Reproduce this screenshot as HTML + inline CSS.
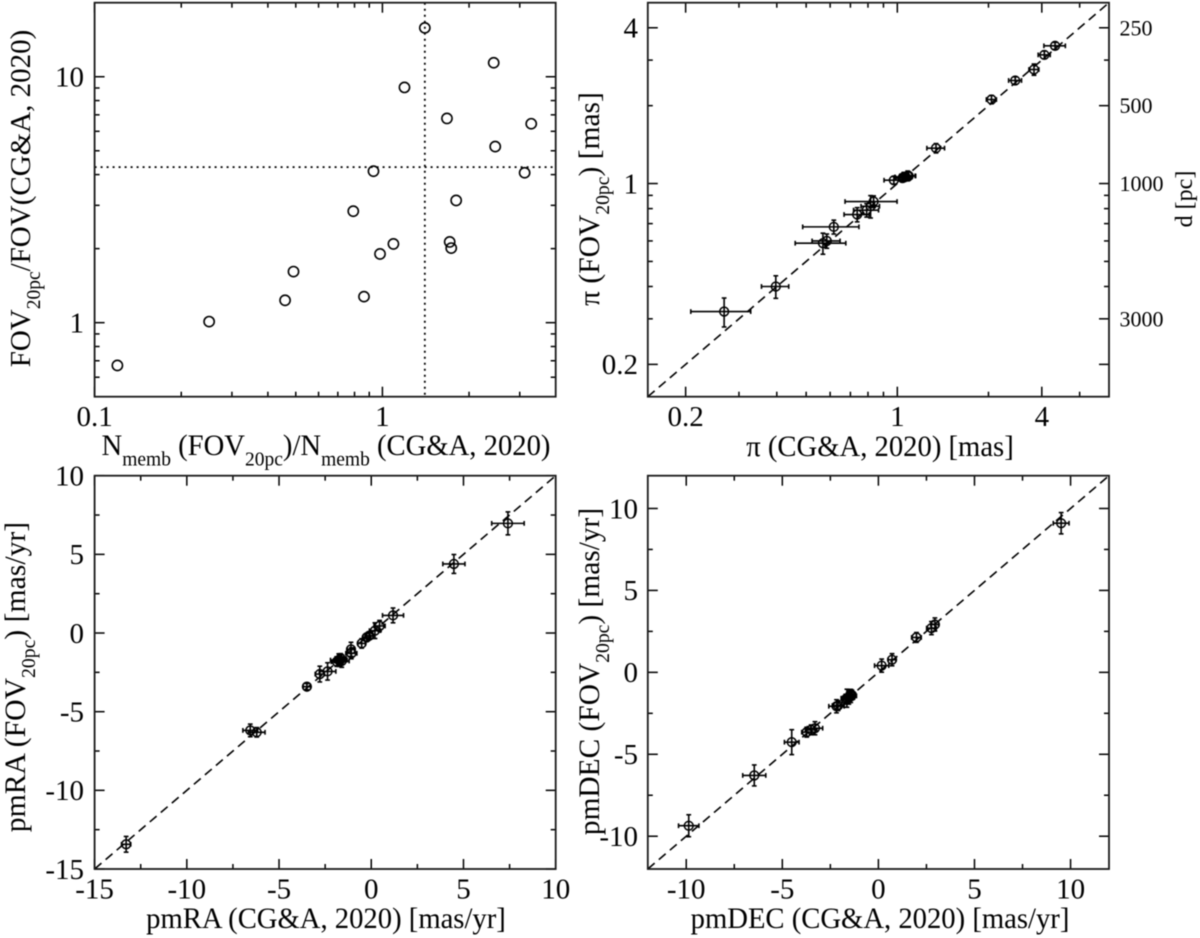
<!DOCTYPE html>
<html lang="en">
<head>
<meta charset="utf-8">
<title>Cluster parameter comparison</title>
<style>
html,body{margin:0;padding:0;background:#fff;}
svg{display:block;filter:blur(0.4px);}
text{font-family:"Liberation Serif",serif;fill:#000;}
</style>
</head>
<body>
<svg id="figure" xmlns="http://www.w3.org/2000/svg" width="1200" height="938" viewBox="0 0 1200 938">
  <g id="panel-a"></g>
  <g id="panel-b"></g>
  <g id="panel-c"></g>
  <g id="panel-d"></g>

  <text transform="translate(326 455) scale(.975 1)" text-anchor="middle" font-size="29.4">N<tspan dy="10.5" font-size="20">memb</tspan><tspan dy="-10.5"> (FOV</tspan><tspan dy="10.5" font-size="20">20pc</tspan><tspan dy="-10.5">)/N</tspan><tspan dy="10.5" font-size="20">memb</tspan><tspan dy="-10.5"> (CG&amp;A, 2020)</tspan></text>
  <text transform="translate(30 198.5) rotate(-90)" text-anchor="middle" font-size="29">FOV<tspan dy="10" font-size="19.5">20pc</tspan><tspan dy="-10">/FOV(CG&amp;A, 2020)</tspan></text>

  <text transform="translate(880 456) scale(.975 1)" text-anchor="middle" font-size="29.4">π (CG&amp;A, 2020) [mas]</text>
  <text transform="translate(599 199) rotate(-90)" text-anchor="middle" font-size="29.5">π (FOV<tspan dy="10" font-size="19.7">20pc</tspan><tspan dy="-10">) [mas]</tspan></text>
  <text transform="translate(1192 199) rotate(-90)" text-anchor="middle" font-size="24">d [pc]</text>

  <text transform="translate(326 928) scale(.975 1)" text-anchor="middle" font-size="29.4">pmRA (CG&amp;A, 2020) [mas/yr]</text>
  <text transform="translate(25 677) rotate(-90)" text-anchor="middle" font-size="29.7">pmRA (FOV<tspan dy="10" font-size="19.7">20pc</tspan><tspan dy="-10">) [mas/yr]</tspan></text>

  <text transform="translate(880 928) scale(.975 1)" text-anchor="middle" font-size="29.4">pmDEC (CG&amp;A, 2020) [mas/yr]</text>
  <text transform="translate(599 671.5) rotate(-90)" text-anchor="middle" font-size="29.4">pmDEC (FOV<tspan dy="10" font-size="19.7">20pc</tspan><tspan dy="-10">) [mas/yr]</tspan></text>
</svg>

<script>
// ---------- Panel A data: member-count ratio vs field-of-view ratio ----------
const ratioNmemb = [0.120,0.250,0.459,0.491,0.863,0.792,0.981,1.092,0.931,1.193,1.404,1.676,1.713,1.734,1.804,2.436,2.466,3.12,3.289];
const ratioFov = [0.670,1.01,1.233,1.613,1.276,2.84,1.903,2.09,4.13,9.05,15.8,6.77,2.13,2.01,3.14,11.4,5.2,4.07,6.44];
const ratioMedianX = [1.404];
const ratioMedianY = [4.29];
const ratioXDomain = [0.1,4];
const ratioYDomain = [0.5,20];
const ratioXMajor = [0.1,1];
const ratioXMinor = [0.2,0.3,0.4,0.5,0.6,0.7,0.8,0.9,2,3];
const ratioXLabels = ["0.1","1"];
const ratioYMajor = [1,10];
const ratioYMinor = [0.6,0.7,0.8,0.9,2,3,4,5,6,7,8,9];
const ratioYLabels = ["1","10"];

// ---------- Panel B data: parallax ----------
const plxX = [0.268,0.397,0.568,0.585,0.617,0.737,0.792,0.816,0.835,0.974,1.04,1.051,1.082,1.066,1.09,1.342,2.046,2.451,2.827,3.058,3.318];
const plxY = [0.320,0.400,0.588,0.600,0.680,0.759,0.789,0.817,0.852,1.030,1.05,1.061,1.071,1.061,1.07,1.370,2.112,2.502,2.759,3.143,3.406];
const plxXErr = [0.06,0.041,0.108,0.062,0.13,0.07,0.075,0.057,0.163,0.07,0.05,0.068,0.063,0.05,0.06,0.09,0.078,0.12,0.107,0.14,0.27];
const plxYErr = [0.041,0.04,0.055,0.038,0.042,0.048,0.047,0.081,0.044,0.035,0.035,0.043,0.047,0.035,0.04,0.057,0.078,0.082,0.138,0.108,0.107];
const plxDomain = [0.15,5];
const plxXMajor = [0.2,1,3];
const plxXMinor = [0.3,0.4,0.5,0.6,0.7,0.8,0.9,2,4];
const plxXLabels = ["0.2","1","4"];
const plxYMajor = [0.2,1,4];
const plxYMinor = [0.3,0.4,0.5,0.6,0.7,0.8,0.9,2,3];
const plxYLabels = ["0.2","1","4"];
const plxRightMajor = [0.2,0.3,1,2,4];
const plxRightMinor = [0.4,0.5,0.6,0.7,0.8,0.9,3];
const distTickParallax = [4,2,1,0.3];
const distLabels = ["250","500","1000","3000"];

// ---------- Panel C data: proper motion in RA ----------
const pmraX = [-13.29,-6.56,-6.21,-3.49,-2.79,-2.37,-1.87,-1.76,-1.7,-1.66,-1.60,-1.10,-1.08,-0.52,-0.25,-0.11,0.2,0.45,1.18,4.48,7.41];
const pmraY = [-13.43,-6.19,-6.31,-3.41,-2.61,-2.44,-1.82,-1.72,-1.75,-1.61,-1.78,-1.04,-1.29,-0.66,-0.28,-0.17,0.15,0.45,1.12,4.39,6.97];
const pmraXErr = [0.25,0.4,0.45,0.2,0.25,0.45,0.3,0.45,0.3,0.3,0.4,0.2,0.3,0.2,0.2,0.2,0.3,0.3,0.57,0.6,0.88];
const pmraYErr = [0.5,0.4,0.3,0.2,0.5,0.55,0.3,0.4,0.35,0.3,0.4,0.45,0.35,0.3,0.25,0.2,0.5,0.35,0.47,0.6,0.73];
const pmraDomain = [-15,10];
const pmraMajor = [-15,-10,-5,0,5,10];
const pmraMinor = [-12.5,-7.5,-2.5,2.5,7.5];
const pmraLabels = ["-15","-10","-5","0","5","10"];

// ---------- Panel D data: proper motion in DEC ----------
const pmdecX = [-9.87,-6.46,-4.51,-3.73,-3.5,-3.3,-2.18,-2.1,-1.7,-1.64,-1.6,-1.54,-1.5,-1.44,-1.45,-1.38,0.17,0.71,1.98,2.76,2.94,9.51];
const pmdecY = [-9.36,-6.29,-4.26,-3.65,-3.51,-3.41,-2.07,-2.03,-1.64,-1.58,-1.6,-1.54,-1.5,-1.44,-1.35,-1.38,0.41,0.77,2.13,2.7,2.92,9.1];
const pmdecXErr = [0.53,0.6,0.38,0.26,0.3,0.4,0.4,0.3,0.2,0.3,0.25,0.3,0.25,0.3,0.2,0.2,0.37,0.2,0.25,0.25,0.2,0.41];
const pmdecYErr = [0.67,0.64,0.76,0.3,0.3,0.4,0.4,0.3,0.3,0.55,0.3,0.4,0.3,0.4,0.3,0.3,0.4,0.37,0.3,0.4,0.4,0.65];
const pmdecDomain = [-12,12];
const pmdecMajor = [-10,-5,0,5,10];
const pmdecMinor = [-7.5,-2.5,2.5,7.5];
const pmdecLabels = ["-10","-5","0","5","10"];

// ---------- Layout ----------
const INK = "#000";
const LEFT_COL = {x0:94.6, x1:555.7};
const RIGHT_COL = {x0:647.8, x1:1109};
const TOP_ROW = {y0:396.7, y1:2.7};
const BOTTOM_ROW = {y0:869, y1:475.7};
const MAJOR_LEN = 10;
const MINOR_LEN = 5;
const TICK_FONT = 29;

function linearScale(domain, a, b){
  return function(v){ return a + (v - domain[0]) / (domain[1] - domain[0]) * (b - a); };
}
function logScale(domain, a, b){
  const l0 = Math.log10(domain[0]);
  const l1 = Math.log10(domain[1]);
  return function(v){ return a + (Math.log10(v) - l0) / (l1 - l0) * (b - a); };
}
function svgEl(tag, geom, parent){
  const el = document.createElementNS("http://www.w3.org/2000/svg", tag);
  for(const k in geom){ el.setAttribute(k, geom[k]); }
  parent.appendChild(el);
  return el;
}
function line(parent, x1, y1, x2, y2, width, extra){
  const g = {x1:x1, y1:y1, x2:x2, y2:y2, stroke:INK, "stroke-width":width};
  if(extra){ for(const k in extra){ g[k] = extra[k]; } }
  return svgEl("line", g, parent);
}

function drawFrame(parent, col, row){
  const frame = svgEl("rect", {x:col.x0, y:row.y1, width:col.x1-col.x0, height:row.y0-row.y1, fill:"none", stroke:"#1a1a1a", "stroke-width":1.8}, parent);
  
  
}
function drawXTicks(parent, sx, row, values, len){
  values.forEach(function(v){
    const x = sx(v);
    const bottom = line(parent, x, row.y0, x, row.y0 - len, 1.5);
    
    
    const top = line(parent, x, row.y1, x, row.y1 + len, 1.5);
    
    
  });
}
function drawYTicks(parent, sy, col, values, len, side){
  values.forEach(function(v){
    const y = sy(v);
    const x = side === "left" ? col.x0 : col.x1;
    const dir = side === "left" ? 1 : -1;
    const tick = line(parent, x, y, x + dir * len, y, 1.5);
    
    
  });
}
function drawXLabels(parent, sx, values, labels, baseline){
  values.forEach(function(v, i){
    const t = svgEl("text", {x:sx(v), y:baseline, "text-anchor":"middle", "font-size":TICK_FONT}, parent);
    t.textContent = labels[i];
    
    
  });
}
function drawYLabels(parent, sy, values, labels, right){
  values.forEach(function(v, i){
    const t = svgEl("text", {x:right, y:sy(v) + 9.8, "text-anchor":"end", "font-size":TICK_FONT}, parent);
    t.textContent = labels[i];
    
    
  });
}
function drawIdentity(parent, sx, sy, domain){
  const l = line(parent, sx(domain[0]), sy(domain[0]), sx(domain[1]), sy(domain[1]), 1.6, {"stroke-dasharray":"9 5.5"});
  
  
}
function drawErrorPoints(parent, sx, sy, xs, ys, xe, ye){
  xs.forEach(function(xv, i){
    const g = svgEl("g", {}, parent);
    
    
    const cx = sx(xv), cy = sy(ys[i]);
    const xl = sx(xv - xe[i]), xr = sx(xv + xe[i]);
    const yt = sy(ys[i] + ye[i]), yb = sy(ys[i] - ye[i]);
    const hBar = line(g, xl, cy, xr, cy, 1.6);
    
    
    const vBar = line(g, cx, yt, cx, yb, 1.6);
    
    
    line(g, xl, cy - 2.4, xl, cy + 2.4, 1.6);
    line(g, xr, cy - 2.4, xr, cy + 2.4, 1.6);
    line(g, cx - 2.4, yt, cx + 2.4, yt, 1.6);
    line(g, cx - 2.4, yb, cx + 2.4, yb, 1.6);
    const c = svgEl("circle", {cx:cx, cy:cy, r:4.4, fill:"none", stroke:INK, "stroke-width":1.5}, g);
    
    
  });
}

// ---------- Panel A ----------
(function(){
  const p = document.getElementById("panel-a");
  const sx = logScale(ratioXDomain, LEFT_COL.x0, LEFT_COL.x1);
  const sy = logScale(ratioYDomain, TOP_ROW.y0, TOP_ROW.y1);
  drawXTicks(p, sx, TOP_ROW, ratioXMajor, MAJOR_LEN);
  drawXTicks(p, sx, TOP_ROW, ratioXMinor, MINOR_LEN);
  ["left","right"].forEach(function(side){
    drawYTicks(p, sy, LEFT_COL, ratioYMajor, MAJOR_LEN, side);
    drawYTicks(p, sy, LEFT_COL, ratioYMinor, MINOR_LEN, side);
  });
  const vRef = line(p, sx(ratioMedianX[0]), TOP_ROW.y1, sx(ratioMedianX[0]), TOP_ROW.y0, 1.8, {"stroke-dasharray":"2 4"});
  
  
  const hRef = line(p, LEFT_COL.x0, sy(ratioMedianY[0]), LEFT_COL.x1, sy(ratioMedianY[0]), 1.8, {"stroke-dasharray":"2 4"});
  
  
  ratioNmemb.forEach(function(xv, i){
    const c = svgEl("circle", {cx:sx(xv), cy:sy(ratioFov[i]), r:5.1, fill:"none", stroke:INK, "stroke-width":1.6}, p);
    
    
  });
  drawFrame(p, LEFT_COL, TOP_ROW);
  drawXLabels(p, sx, ratioXMajor, ratioXLabels, 426);
  drawYLabels(p, sy, ratioYMajor, ratioYLabels, 84);
})();

// ---------- Panel B ----------
(function(){
  const p = document.getElementById("panel-b");
  const sx = logScale(plxDomain, RIGHT_COL.x0, RIGHT_COL.x1);
  const sy = logScale(plxDomain, TOP_ROW.y0, TOP_ROW.y1);
  drawXTicks(p, sx, TOP_ROW, plxXMajor, MAJOR_LEN);
  drawXTicks(p, sx, TOP_ROW, plxXMinor, MINOR_LEN);
  drawYTicks(p, sy, RIGHT_COL, plxYMajor, MAJOR_LEN, "left");
  drawYTicks(p, sy, RIGHT_COL, plxYMinor, MINOR_LEN, "left");
  drawYTicks(p, sy, RIGHT_COL, plxRightMajor, MAJOR_LEN, "right");
  drawYTicks(p, sy, RIGHT_COL, plxRightMinor, MINOR_LEN, "right");
  drawIdentity(p, sx, sy, plxDomain);
  drawErrorPoints(p, sx, sy, plxX, plxY, plxXErr, plxYErr);
  drawFrame(p, RIGHT_COL, TOP_ROW);
  drawXLabels(p, sx, plxXMajor, plxXLabels, 426);
  drawYLabels(p, sy, plxYMajor, plxYLabels, 638);
  distTickParallax.forEach(function(v, i){
    const t = svgEl("text", {x:1119.5, y:sy(v) + 7.5, "text-anchor":"start", "font-size":22}, p);
    t.textContent = distLabels[i];
    
    
  });
})();

// ---------- Panel C ----------
(function(){
  const p = document.getElementById("panel-c");
  const sx = linearScale(pmraDomain, LEFT_COL.x0, LEFT_COL.x1);
  const sy = linearScale(pmraDomain, BOTTOM_ROW.y0, BOTTOM_ROW.y1);
  drawXTicks(p, sx, BOTTOM_ROW, pmraMajor, MAJOR_LEN);
  drawXTicks(p, sx, BOTTOM_ROW, pmraMinor, MINOR_LEN);
  ["left","right"].forEach(function(side){
    drawYTicks(p, sy, LEFT_COL, pmraMajor, MAJOR_LEN, side);
    drawYTicks(p, sy, LEFT_COL, pmraMinor, MINOR_LEN, side);
  });
  drawIdentity(p, sx, sy, pmraDomain);
  drawErrorPoints(p, sx, sy, pmraX, pmraY, pmraXErr, pmraYErr);
  drawFrame(p, LEFT_COL, BOTTOM_ROW);
  drawXLabels(p, sx, pmraMajor, pmraLabels, 898.5);
  drawYLabels(p, sy, pmraMajor, pmraLabels, 84);
})();

// ---------- Panel D ----------
(function(){
  const p = document.getElementById("panel-d");
  const sx = linearScale(pmdecDomain, RIGHT_COL.x0, RIGHT_COL.x1);
  const sy = linearScale(pmdecDomain, BOTTOM_ROW.y0, BOTTOM_ROW.y1);
  drawXTicks(p, sx, BOTTOM_ROW, pmdecMajor, MAJOR_LEN);
  drawXTicks(p, sx, BOTTOM_ROW, pmdecMinor, MINOR_LEN);
  ["left","right"].forEach(function(side){
    drawYTicks(p, sy, RIGHT_COL, pmdecMajor, MAJOR_LEN, side);
    drawYTicks(p, sy, RIGHT_COL, pmdecMinor, MINOR_LEN, side);
  });
  drawIdentity(p, sx, sy, pmdecDomain);
  drawErrorPoints(p, sx, sy, pmdecX, pmdecY, pmdecXErr, pmdecYErr);
  drawFrame(p, RIGHT_COL, BOTTOM_ROW);
  drawXLabels(p, sx, pmdecMajor, pmdecLabels, 898.5);
  drawYLabels(p, sy, pmdecMajor, pmdecLabels, 638);
})();
</script>
</body>
</html>
